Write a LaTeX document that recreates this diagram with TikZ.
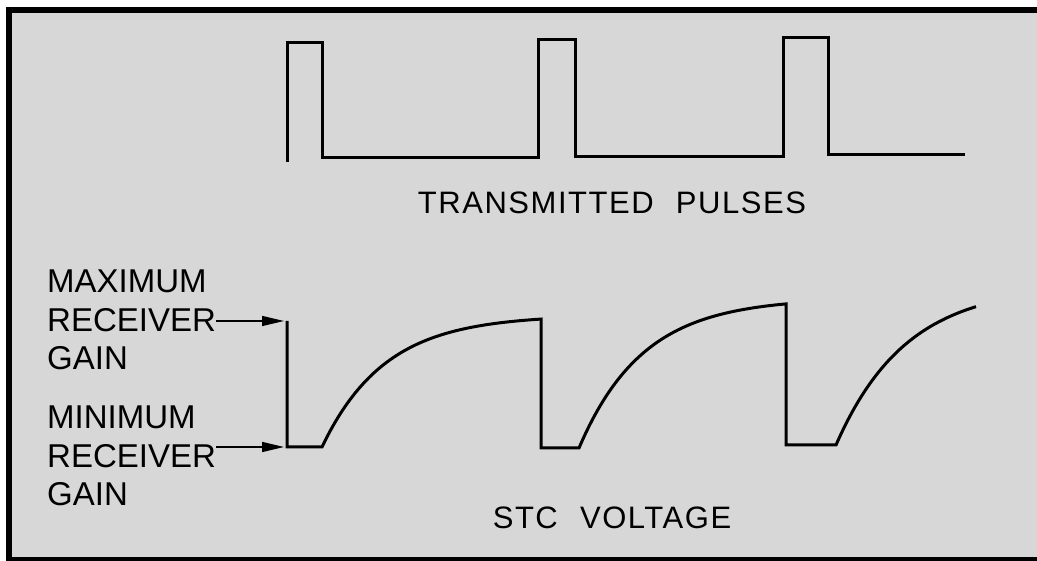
\documentclass[tikz,border=0pt]{standalone}
\usepackage{fontspec}
\setmainfont{Liberation Sans}
\usetikzlibrary{arrows.meta,positioning}
\definecolor{stcpanel}{HTML}{D7D7D7}

\begin{document}
\begin{tikzpicture}[x=1pt,y=-1pt, every node/.style={inner sep=0pt,align=left}]
\tikzset{wave/.style={line width=3pt,line join=miter,black},
  caption/.style={font=\fontsize{31}{36}\selectfont\addfontfeature{LetterSpace=5}},
  gainlbl/.style={font=\fontsize{33}{38.5}\selectfont,anchor=west},
  gainarrow/.style={-{Triangle[length=22pt,width=10pt]},line width=1.5pt}}
\useasboundingbox (0,0) rectangle (1037,561);
\fill[black] (6,7) rectangle (1037,561);
\fill[stcpanel] (12,13) rectangle (1037,557);
% transmitted pulses
\draw[wave] (287,162) -- (287,43) -- (322,43) -- (322,158) -- (538,158) -- (538,40)
  -- (575,40) -- (575,157) -- (783,157) -- (783,38) -- (828,38) -- (828,155) -- (965,155);
\node[caption] (txlbl) at (612,203) {TRANSMITTED\hspace{12pt} PULSES};
% stc voltage
\coordinate (maxpt) at (287,321);
\coordinate (minpt) at (287,447);
\draw[wave] (maxpt) -- (minpt) -- (322,447)
  -- plot[domain=322:541,samples=80] (\x,{447-132*(1-exp(-(\x-322)/63))})
  -- (541,448) -- (579,448)
  -- plot[domain=579:786,samples=80] (\x,{448-150*(1-exp(-(\x-579)/64))})
  -- (786,445) -- (833,445)
  -- plot[domain=836:976,samples=60] (\x,{445-160*(1-exp(-(\x-836)/70))});
\node[caption] (stclbl) at (612,518) {STC\hspace{12pt} VOLTAGE};
\node[gainlbl] (maxlbl) at (47,320) {MAXIMUM\\RECEIVER\\GAIN};
\node[gainlbl] (minlbl) at (47,456) {MINIMUM\\RECEIVER\\GAIN};
\draw[gainarrow] (maxlbl.east |- maxpt) -- ([xshift=-3pt]maxpt);
\draw[gainarrow] (minlbl.east |- minpt) -- ([xshift=-3pt]minpt);
\end{tikzpicture}
\end{document}
